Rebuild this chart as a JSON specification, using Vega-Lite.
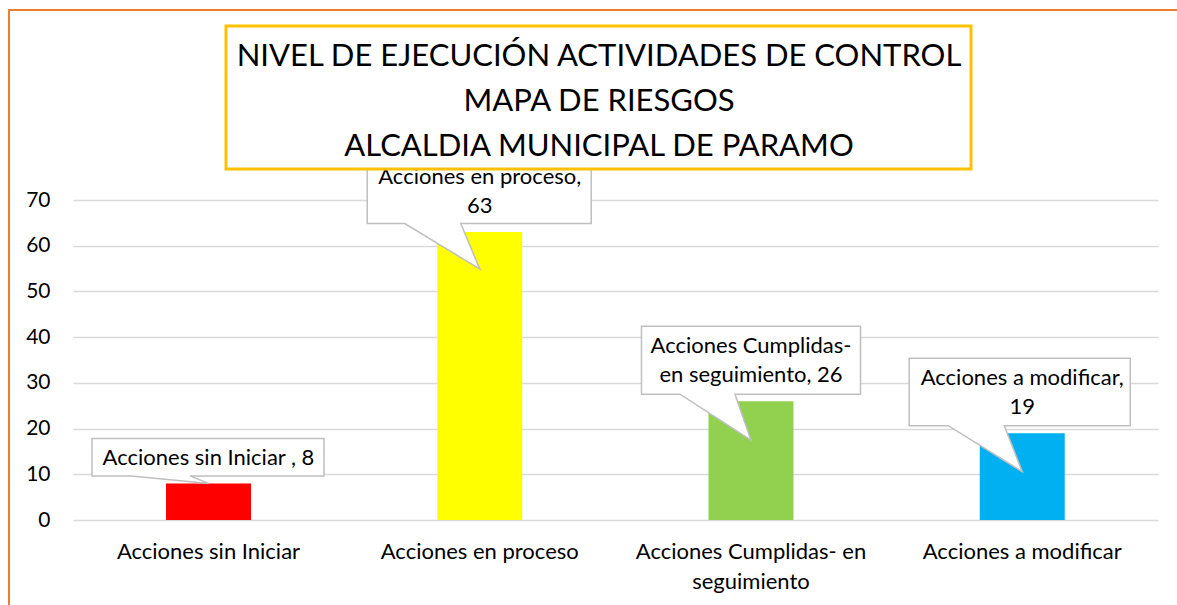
{
  "$schema": "https://vega.github.io/schema/vega-lite/v6.json",
  "autosize": "none",
  "padding": {"left": 9, "top": 10, "right": -10, "bottom": -10},
  "width": 1178,
  "height": 605,
  "background": "white",
  "config": {
    "font": "Lato",
    "view": {"stroke": "#ED7D31", "strokeWidth": 2}
  },
  "data": {
    "values": [
      {"categoria": "Acciones sin Iniciar", "valor": 8, "etiqueta": "Acciones sin Iniciar , 8"},
      {"categoria": "Acciones en proceso", "valor": 63, "etiqueta": "Acciones en proceso,\n63"},
      {"categoria": "Acciones Cumplidas- en seguimiento", "valor": 26, "etiqueta": "Acciones Cumplidas-\nen seguimiento, 26"},
      {"categoria": "Acciones a modificar", "valor": 19, "etiqueta": "Acciones a modificar,\n19"}
    ]
  },
  "encoding": {
    "x": {
      "field": "categoria",
      "type": "nominal",
      "sort": null,
      "scale": {"paddingInner": 0.68664, "paddingOuter": 0.514747, "align": 0.5622},
      "axis": {
        "orient": "bottom",
        "offset": -95,
        "ticks": false,
        "domain": false,
        "grid": false,
        "title": null,
        "labelAngle": 0,
        "labelPadding": 21,
        "labelFontSize": 22,
        "labelFont": "Lato",
        "labelColor": "#000000",
        "labelLineHeight": 30,
        "labelLimit": 500,
        "zindex": 0,
        "labelExpr": "datum.value == 'Acciones Cumplidas- en seguimiento' ? ['Acciones Cumplidas- en', 'seguimiento'] : datum.label"
      }
    },
    "y": {
      "field": "valor",
      "type": "quantitative",
      "scale": {"domain": [-20.78125, 111.5625], "nice": false, "zero": false},
      "axis": {
        "orient": "left",
        "offset": -64,
        "values": [0, 10, 20, 30, 40, 50, 60, 70],
        "domain": false,
        "grid": false,
        "ticks": true,
        "tickSize": -1085,
        "tickColor": "#D9D9D9",
        "tickWidth": 1.3,
        "labelPadding": 1108,
        "labelFontSize": 21,
        "labelFont": "Lato",
        "labelColor": "#000000",
        "title": null,
        "zindex": 0
      }
    }
  },
  "layer": [
    {
      "mark": {"type": "bar"},
      "encoding": {
        "color": {
          "field": "categoria",
          "type": "nominal",
          "scale": {
            "domain": ["Acciones sin Iniciar", "Acciones en proceso", "Acciones Cumplidas- en seguimiento", "Acciones a modificar"],
            "range": ["#FF0000", "#FFFF00", "#92D050", "#00B0F0"]
          },
          "legend": {
            "values": ["Acciones sin Iniciar"],
            "title": ["NIVEL DE EJECUCIÓN ACTIVIDADES DE CONTROL", "MAPA DE RIESGOS", "ALCALDIA MUNICIPAL DE PARAMO"],
            "orient": "none",
            "legendX": 217,
            "legendY": 16,
            "titleOrient": "bottom",
            "titleFont": "Lato",
            "titleFontSize": 31,
            "titleFontWeight": "normal",
            "titleColor": "#000000",
            "titleLineHeight": 45,
            "titleAlign": "center",
            "titleAnchor": "middle",
            "titleLimit": 2000,
            "titlePadding": 8,
            "padding": 7,
            "labelExpr": "''",
            "labelOpacity": 0,
            "labelFontSize": 1,
            "labelOffset": 730,
            "labelLimit": 2000,
            "symbolSize": 0,
            "symbolOpacity": 0,
            "symbolStrokeWidth": 0,
            "strokeColor": "#FFC000",
            "fillColor": "white",
            "zindex": 1,
            "encode": {"legend": {"update": {"strokeWidth": {"value": 3}}}}
          }
        }
      }
    },
    {
      "mark": {"type": "point", "filled": true, "fill": "white", "stroke": "#BFBFBF", "strokeWidth": 1.5, "opacity": 1},
      "encoding": {
        "shape": {
          "field": "categoria",
          "type": "nominal",
          "scale": {
            "domain": ["Acciones sin Iniciar", "Acciones en proceso", "Acciones Cumplidas- en seguimiento", "Acciones a modificar"],
            "range": [
              "M -116.5 -45 L 115.5 -45 L 115.5 -7.5 L -18.5 -7.5 L 0 0 L -77 -7.5 L -116.5 -7.5 Z",
              "M -112.5 -76 L 111.5 -76 L 111.5 -8.5 L -19 -8.5 L 0 37 L -75 -8.5 L -112.5 -8.5 Z",
              "M -109.5 -75 L 109.5 -75 L 109.5 -7 L -16 -7 L 0 39 L -71 -7 L -109.5 -7 Z",
              "M -113 -75 L 108 -75 L 108 -7.5 L -18 -7.5 L 0 38.5 L -74 -7.5 L -113 -7.5 Z"
            ]
          },
          "legend": null
        },
        "size": {"value": 4}
      }
    },
    {
      "transform": [{"filter": "datum.categoria == 'Acciones sin Iniciar'"}],
      "mark": {"type": "text", "font": "Lato", "fontSize": 22, "color": "#000000", "align": "center", "baseline": "bottom", "lineBreak": "\n", "lineHeight": 28.5, "dy": -13.2},
      "encoding": {
        "text": {"field": "etiqueta", "type": "nominal"}
      }
    },
    {
      "transform": [{"filter": "datum.categoria != 'Acciones sin Iniciar'"}],
      "mark": {"type": "text", "font": "Lato", "fontSize": 22, "color": "#000000", "align": "center", "baseline": "bottom", "lineBreak": "\n", "lineHeight": 28.5, "dy": -42.9},
      "encoding": {
        "text": {"field": "etiqueta", "type": "nominal"}
      }
    }
  ]
}
